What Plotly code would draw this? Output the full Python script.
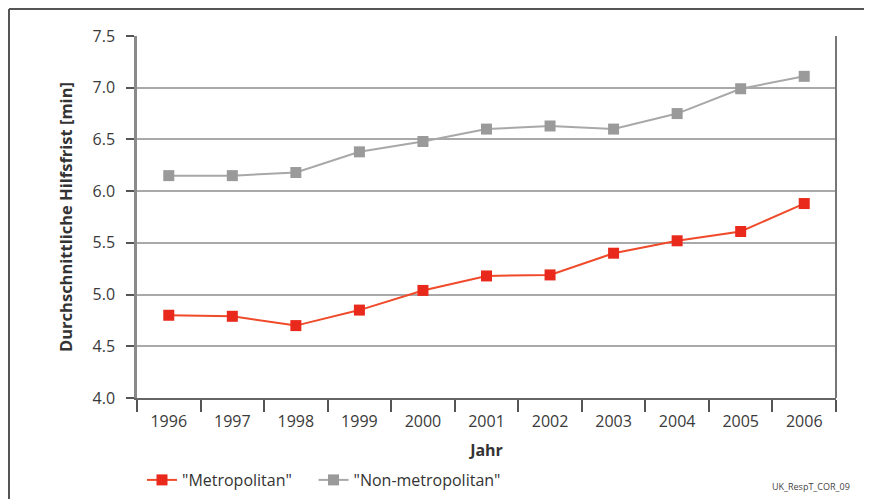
import plotly.graph_objects as go

years = ["1996", "1997", "1998", "1999", "2000", "2001", "2002", "2003", "2004", "2005", "2006"]
metropolitan = [4.80, 4.79, 4.70, 4.85, 5.04, 5.18, 5.19, 5.40, 5.52, 5.61, 5.88]
non_metropolitan = [6.15, 6.15, 6.18, 6.38, 6.48, 6.60, 6.63, 6.60, 6.75, 6.99, 7.11]
y_ticks = [4.0, 4.5, 5.0, 5.5, 6.0, 6.5, 7.0, 7.5]

FONT = "Open Sans"
RED = "#e8291c"
GRAY = "#9a9a9a"
NBSP = "\u00a0"

fig = go.Figure()
fig.add_trace(go.Scatter(
    x=years, y=metropolitan, name='"Metropolitan"' + NBSP * 4, mode="lines+markers",
    line=dict(color="#ef4a2a", width=2),
    marker=dict(symbol="square", size=11, color=RED),
))
fig.add_trace(go.Scatter(
    x=years, y=non_metropolitan, name='"Non-metropolitan"', mode="lines+markers",
    line=dict(color="#a8a8a8", width=2),
    marker=dict(symbol="square", size=11, color=GRAY),
))

# page body has an 8px margin; work in screen pixels and convert
OFF = 8
W, H = 864, 491
L, R, T, B = 129, 36, 28, 101
pw, ph = W - L - R, H - T - B

def px(xs):
    return (xs - OFF - L) / pw

def py(ys):
    return (H - B - (ys - OFF)) / ph

fig.update_layout(
    width=W, height=H,
    margin=dict(l=L, r=R, t=T, b=B, autoexpand=False),
    paper_bgcolor="white", plot_bgcolor="white",
    font=dict(family=FONT, size=16, color="#3a3a3a"),
    showlegend=True,
    legend=dict(orientation="h", x=px(142), xanchor="left", y=py(480), yanchor="middle",
                font=dict(family=FONT, size=16, color="#333"),
                bgcolor="rgba(0,0,0,0)", tracegroupgap=0),
    xaxis=dict(
        type="category", range=[-0.5, 10.5],
        showgrid=False, showline=True, linecolor="#666", linewidth=2,
        ticks="outside", tickson="boundaries", ticklen=12, tickcolor="#555", tickwidth=1.5,
        tickfont=dict(family=FONT, size=16, color="#3a3a3a"),
        ticklabelstandoff=8,
        title=dict(text="<b>Jahr</b>", font=dict(family=FONT, size=16, color="#333"), standoff=14),
    ),
    yaxis=dict(
        range=[4.0, 7.5], tickvals=y_ticks, ticktext=[f"{v:.1f}" for v in y_ticks],
        showgrid=True, gridcolor="#a9a9a9", gridwidth=1.5,
        showline=True, linecolor="#8a8a8a", linewidth=2.5,
        ticks="outside", ticklen=8, tickcolor="#555", tickwidth=1.5,
        tickfont=dict(family=FONT, size=16, color="#3a3a3a"),
        ticklabelstandoff=8,
        title=dict(text="<b>Durchschnittliche Hilfsfrist [min]</b>",
                   font=dict(family=FONT, size=16.5, color="#333"), standoff=16),
        zeroline=False,
    ),
    shapes=[
        dict(type="line", xref="paper", yref="paper", x0=1, x1=1, y0=0, y1=1,
             line=dict(color="#777", width=2)),
        dict(type="line", xref="paper", yref="paper", x0=px(9), x1=px(9), y0=py(9), y1=py(520),
             line=dict(color="#555", width=2)),
        dict(type="line", xref="paper", yref="paper", x0=px(9), x1=px(900), y0=py(9), y1=py(9),
             line=dict(color="#555", width=2)),
    ],
    annotations=[
        dict(text="UK_RespT_COR_09", xref="paper", yref="paper", x=px(852), y=py(486),
             xanchor="right", yanchor="middle", showarrow=False,
             font=dict(family=FONT, size=9, color="#444")),
    ],
)

fig.write_html("out.html")
